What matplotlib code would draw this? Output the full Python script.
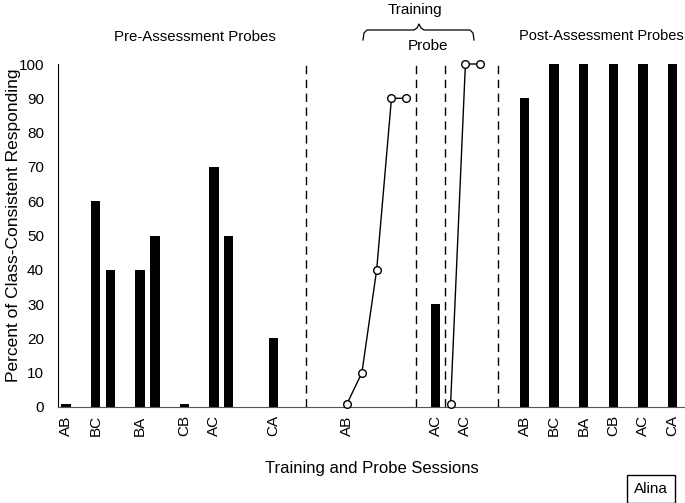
import numpy as np
import matplotlib.pyplot as plt
from matplotlib.lines import Line2D

plt.rcParams['font.family'] = ['Liberation Sans', 'DejaVu Sans']

# pre-assessment probes (bars)
pre_x = [1, 3, 4, 6, 7, 9, 11, 12, 15]
pre_y = [1, 60, 40, 40, 50, 1, 70, 50, 20]

# training sessions AB (line)
train1_x = [20, 21, 22, 23, 24]
train1_y = [1, 10, 40, 90, 90]

# probe bar
probe_x = [26]
probe_y = [30]

# training sessions AC (line)
train2_x = [27, 28, 29]
train2_y = [1, 100, 100]

# post-assessment probes
post_x = [32, 34, 36, 38, 40, 42]
post_y = [90, 100, 100, 100, 100, 100]

# phase lines
phase_x = [17.2, 24.65, 26.6, 30.2]

tick_pos = [1, 3, 6, 9, 11, 15, 20, 26, 28, 32, 34, 36, 38, 40, 42]
tick_lab = ['AB', 'BC', 'BA', 'CB', 'AC', 'CA', 'AB', 'AC', 'AC',
            'AB', 'BC', 'BA', 'CB', 'AC', 'CA']

fig = plt.figure(figsize=(6.85, 5.03), dpi=100)
ax = fig.add_axes([58/685, 1-407/503, 1-58/685, (407-64)/503])

ax.bar(pre_x + probe_x + post_x, pre_y + probe_y + post_y, width=0.63, color='black')
ax.plot(train1_x, train1_y, color='black', lw=1, marker='o', ms=5.5,
        mfc='white', mec='black', zorder=5, clip_on=False)
ax.plot(train2_x, train2_y, color='black', lw=1, marker='o', ms=5.5,
        mfc='white', mec='black', zorder=5, clip_on=False)

for xv in phase_x:
    ax.axvline(xv, ymin=0, ymax=1.0, color='black', lw=1, ls=(0, (6, 4)))

ax.set_xlim(0.45, 42.85)
ax.set_ylim(0, 100)
ax.set_yticks(range(0, 101, 10))
ax.set_xticks(tick_pos)
ax.set_xticklabels(tick_lab, rotation=90, fontsize=11)
ax.tick_params(axis='both', length=0, labelsize=11)
ax.tick_params(axis='y', pad=10)
ax.tick_params(axis='x', pad=6)
for s in ['top', 'right']:
    ax.spines[s].set_visible(False)
ax.spines['left'].set_color('black')
ax.spines['bottom'].set_color('#555555')

ax.set_ylabel('Percent of Class-Consistent Responding', fontsize=12.5)
ax.yaxis.set_label_coords((21 - 58) / (685 - 58), (407 - 225) / 343)
ax.set_xlabel('Training and Probe Sessions', fontsize=12, labelpad=18)

# phase titles (figure pixel coordinates)
def fx(px):
    return px / 685

def fy(py):
    return 1 - py / 503

fig.text(fx(195), fy(37), 'Pre-Assessment Probes', ha='center', va='center', fontsize=10.8)
fig.text(fx(601), fy(36), 'Post-Assessment Probes', ha='center', va='center', fontsize=10.5)
fig.text(fx(415), fy(10), 'Training', ha='center', va='center', fontsize=11)
fig.text(fx(428), fy(46), 'Probe', ha='center', va='center', fontsize=11)

# brace over training phase
bx = [363, 364, 367, 414, 417, 419, 421, 424, 470, 473, 474]
by = [40, 33, 30, 30, 28, 24, 28, 30, 30, 33, 40]
fig.add_artist(Line2D([fx(v) for v in bx], [fy(v) for v in by],
                      color='black', lw=0.9, transform=fig.transFigure))

fig.text(fx(651), fy(489), 'Alina', ha='center', va='center', fontsize=11,
         bbox=dict(boxstyle='square,pad=0.45', fc='white', ec='black', lw=1))

fig.savefig('out.png', dpi=100)
